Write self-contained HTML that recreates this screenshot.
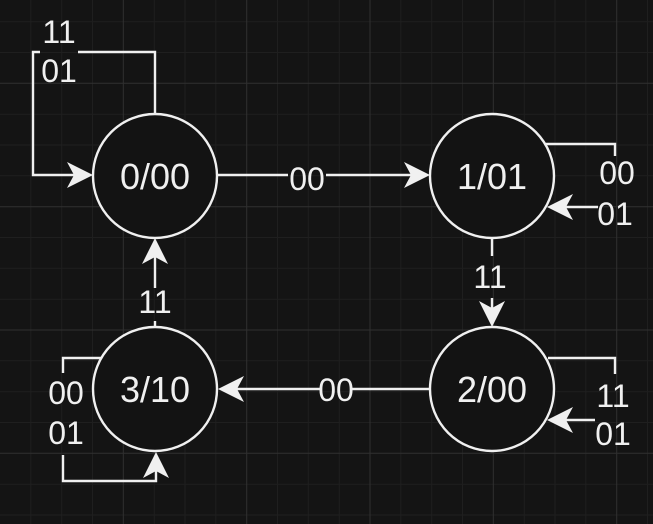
<!DOCTYPE html>
<html><head><meta charset="utf-8"><style>
html,body{margin:0;padding:0;background:#141414;}
svg{display:block}
text{font-family:"Liberation Sans",Arial,sans-serif;fill:#f0f0f0;text-anchor:middle}
</style></head><body>
<svg width="653" height="524" viewBox="0 0 653 524" xmlns="http://www.w3.org/2000/svg">
<rect width="653" height="524" fill="#141414"/>
<g stroke="#1f1f1f" stroke-width="1">
<path d="M30.8 0V524M61.7 0V524M92.5 0V524M154.2 0V524M185 0V524M215.8 0V524M277.5 0V524M308.3 0V524M339.2 0V524M400.8 0V524M431.7 0V524M462.5 0V524M524.2 0V524M555 0V524M585.8 0V524M647.5 0V524"/>
<path d="M0 21.7H653M0 52.5H653M0 114.2H653M0 145H653M0 175.8H653M0 237.5H653M0 268.3H653M0 299.2H653M0 360.8H653M0 391.7H653M0 422.5H653M0 484.2H653M0 515H653"/>
</g>
<g stroke="#303030" stroke-width="1">
<path d="M123.3 0V524M246.7 0V524M370 0V524M493.3 0V524M616.7 0V524"/>
<path d="M0 83.3H653M0 206.7H653M0 330H653M0 453.3H653"/>
</g>
<g stroke="#f0f0f0" stroke-width="2.4" fill="none">
<path d="M155 114V52H78M40 52H33V175H75"/>
<path d="M217 175H288M326 175H412"/>
<path d="M545 144H615V156M598 207H552"/>
<path d="M492 238V256M492 298V310"/>
<path d="M548 358H615V374M595 420H552"/>
<path d="M430 389H350M320 389H236"/>
<path d="M155 327V321M155 288V256"/>
<path d="M103 358H63V373M63 455V481H156V470"/>
<circle cx="155" cy="176" r="62" fill="#131313"/>
<circle cx="492" cy="176" r="62" fill="#131313"/>
<circle cx="492" cy="389" r="62" fill="#131313"/>
<circle cx="155" cy="389" r="62" fill="#131313"/>
</g>
<g fill="#f0f0f0">
<path d="M93 175L67 188L74 175L67 162Z"/>
<path d="M430 175L404 188L411 175L404 162Z"/>
<path d="M547 207L573 194L566 207L573 220Z"/>
<path d="M492 327L479 301L492 308L505 301Z"/>
<path d="M547 420L573 407L566 420L573 433Z"/>
<path d="M218 389L244 376L237 389L244 402Z"/>
<path d="M155 238L142 264L155 257L168 264Z"/>
<path d="M156 452L143 478L156 471L169 478Z"/>
</g>
<g font-size="32">
<text x="59" y="43">11</text>
<text x="59" y="82">01</text>
<text x="307" y="190">00</text>
<text x="617" y="184">00</text>
<text x="615" y="225">01</text>
<text x="490" y="288">11</text>
<text x="613" y="407">11</text>
<text x="613" y="445">01</text>
<text x="336" y="401">00</text>
<text x="155" y="313">11</text>
<text x="66" y="404">00</text>
<text x="66" y="444">01</text>
</g>
<g font-size="36">
<text x="155" y="189">0/00</text>
<text x="492" y="189">1/01</text>
<text x="492" y="402">2/00</text>
<text x="155" y="402">3/10</text>
</g>
</svg>
</body></html>
